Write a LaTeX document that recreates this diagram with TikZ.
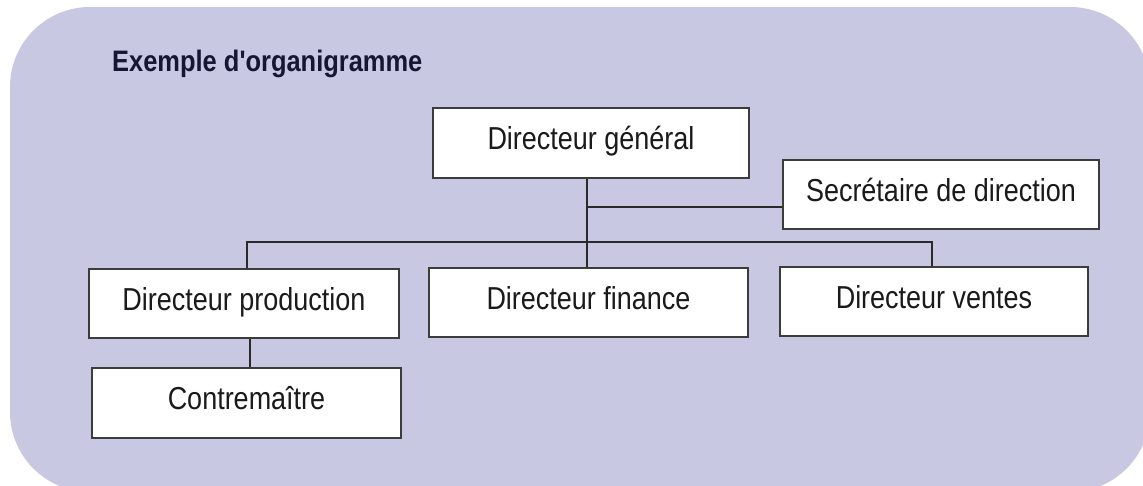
\documentclass[tikz,border=0pt]{standalone}
\usepackage{fontspec}
\setmainfont{Liberation Sans}[FakeStretch=0.85]
\newfontfamily\titlefont{Liberation Sans}[FakeStretch=0.86,Ligatures=TeXOff]
\definecolor{bgc}{HTML}{C8C8E3}
\definecolor{boxline}{HTML}{3C3C3C}
\definecolor{linec}{HTML}{2A2A2A}
\definecolor{textc}{HTML}{1A1A1A}
\definecolor{titlec}{HTML}{161633}
\tikzset{
  orgbox/.style={draw=boxline, line width=1.4pt, fill=white, inner sep=0pt,
    text height=23pt, text depth=10pt, text=textc,
    font=\fontsize{31.75}{36}\selectfont},
  conn/.style={draw=linec, line width=1.3pt}
}
\begin{document}
\begin{tikzpicture}[x=1pt,y=-1pt]
\useasboundingbox (0,0) rectangle (1143,485);
\clip (0,0) rectangle (1143,485);
\fill[bgc, rounded corners=80pt] (10,7) rectangle (1150,492);

\node[anchor=base west, inner sep=0pt, text=titlec,
  font=\titlefont\bfseries\fontsize{29.6}{34}\selectfont] (title) at (112,71) {Exemple d'organigramme};

\node[orgbox, minimum width=316pt, minimum height=70pt] (dg) at (591,143) {Directeur général};
\node[orgbox, minimum width=316pt, minimum height=69pt] (sec) at (941,194.5) {Secrétaire de direction};
\node[orgbox, minimum width=310pt, minimum height=69pt] (prod) at (244,303.5) {Directeur production};
\node[orgbox, minimum width=319pt, minimum height=69pt] (fin) at (588.5,302.5) {Directeur finance};
\node[orgbox, minimum width=308pt, minimum height=69pt] (vent) at (934,301.5) {Directeur ventes};
\node[orgbox, minimum width=309pt, minimum height=70pt] (contre) at (246.5,403) {Contremaître};

\coordinate (j1) at (587,207);
\coordinate (jl) at (247,242);
\coordinate (jr) at (932,242);

\draw[conn] (dg.south -| j1) -- (fin.north -| j1);
\draw[conn] (j1) -- (sec.west |- j1);
\draw[conn] (prod.north -| jl) -- (jl) -- (jr) -- (vent.north -| jr);
\draw[conn] ([xshift=6pt]prod.south) -- ([xshift=3.5pt]contre.north);
\end{tikzpicture}
\end{document}
